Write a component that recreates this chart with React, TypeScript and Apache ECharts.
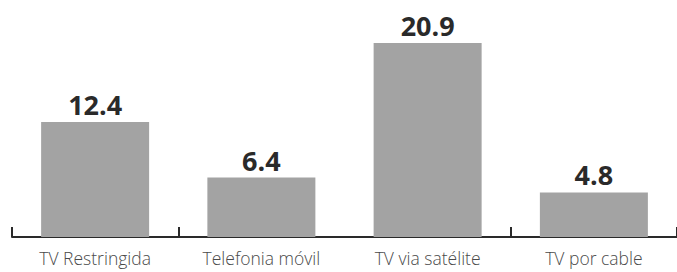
import React, { useEffect, useRef } from "react";
import * as echarts from "echarts";

const categories = ["TV Restringida", "Telefonia móvil", "TV via satélite", "TV por cable"];
const values = [12.4, 6.4, 20.9, 4.8];
const valueLabels = ["12.4", "6.4", "20.9", "4.8"];

export default function App() {
  const ref = useRef<HTMLDivElement>(null);
  useEffect(() => {
    if (!ref.current) return;
    const chart = echarts.init(ref.current, null, { renderer: "svg" });
    chart.setOption({
      animation: false,
      backgroundColor: "#ffffff",
      grid: { left: 12, right: -2, top: 5, bottom: 35, containLabel: false },
      xAxis: {
        type: "category",
        data: categories,
        boundaryGap: true,
        axisLine: { show: true, lineStyle: { color: "#2a2a2a", width: 2 } },
        axisTick: {
          show: true,
          inside: true,
          length: 10,
          lineStyle: { color: "#2a2a2a", width: 2 },
          interval: (i: number) => i !== 2,
        },
        axisLabel: {
          color: "#4a4a4a",
          fontFamily: "Open Sans",
          fontWeight: 300,
          fontSize: 17.5,
          margin: 12,
          interval: 0,
        },
      },
      yAxis: {
        type: "value",
        min: 0,
        max: 25,
        show: false,
        splitLine: { show: false },
      },
      series: [
        {
          type: "bar",
          data: values,
          barWidth: 108,
          itemStyle: { color: "#a3a3a3" },
          label: {
            show: true,
            position: "top",
            distance: 4,
            color: "#2a2a2a",
            fontFamily: "Open Sans",
            fontWeight: "bold",
            fontSize: 27,
            formatter: (p: any) => valueLabels[p.dataIndex],
          },
        },
      ],
    });
    return () => chart.dispose();
  }, []);
  return <div ref={ref} style={{ width: 677, height: 272, position: "absolute", left: 0, top: 0 }} />;
}
